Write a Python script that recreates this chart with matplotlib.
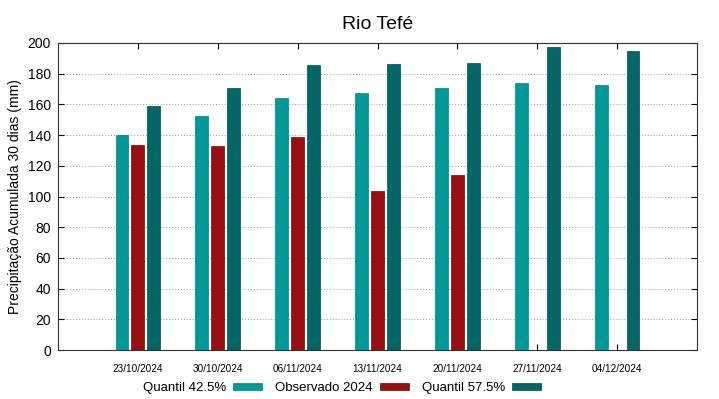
import numpy as np
import matplotlib.pyplot as plt

plt.rcParams['font.family'] = ['Liberation Sans', 'DejaVu Sans']

# datas
datas = ["23/10/2024", "30/10/2024", "06/11/2024", "13/11/2024",
         "20/11/2024", "27/11/2024", "04/12/2024"]

q425 = np.array([140.3, 152.5, 164.4, 167.4, 170.7, 174.2, 172.7])
obs2024 = np.array([133.6, 132.7, 138.6, 103.7, 114.0, np.nan, np.nan])
q575 = np.array([158.7, 170.7, 185.9, 186.3, 187.2, 197.1, 195.0])

cor_q425 = "#009999"
cor_obs = "#990f0f"
cor_q575 = "#006666"

x = np.arange(1, len(datas) + 1)
w = 0.16
off = 0.2

fig = plt.figure(figsize=(7.19, 3.99), dpi=100)
ax = fig.add_axes([58/719, 1 - 350/399, (697 - 58)/719, (350 - 43)/399])

ax.bar(x - off, q425, w, color=cor_q425, edgecolor="#007f7f", linewidth=0.5, label="Quantil 42.5%", zorder=3)
ax.bar(x, obs2024, w, color=cor_obs, edgecolor="#6a0a0a", linewidth=0.5, label="Observado 2024", zorder=3)
ax.bar(x + off, q575, w, color=cor_q575, edgecolor="#004c4c", linewidth=0.5, label="Quantil 57.5%", zorder=3)

ax.set_xlim(0, 8)
ax.set_ylim(0, 200)
ax.set_xticks(x)
ax.set_xticklabels(datas, fontsize=7.2)
ax.set_yticks(np.arange(0, 201, 20))
ax.tick_params(axis="y", labelsize=10, direction="in", length=4, right=True, pad=5)
ax.tick_params(axis="x", direction="in", length=4, top=True, pad=10)
ax.grid(axis="y", linestyle=(0, (1, 2)), color="#999999", linewidth=0.7, zorder=0)
for s in ax.spines.values():
    s.set_linewidth(0.8)
    s.set_color("#333333")

ax.set_ylabel("Precipitação Acumulada 30 dias (mm)", fontsize=10, labelpad=4)
ax.set_title("Rio Tefé", fontsize=14, pad=10)

fig.legend(loc="center", bbox_to_anchor=(342/719, 1 - 388/399), ncol=3, frameon=False,
           markerfirst=False, fontsize=9.5, handlelength=2.2, handleheight=0.5,
           columnspacing=1.0, handletextpad=0.5)

fig.savefig("out.png", dpi=100)
